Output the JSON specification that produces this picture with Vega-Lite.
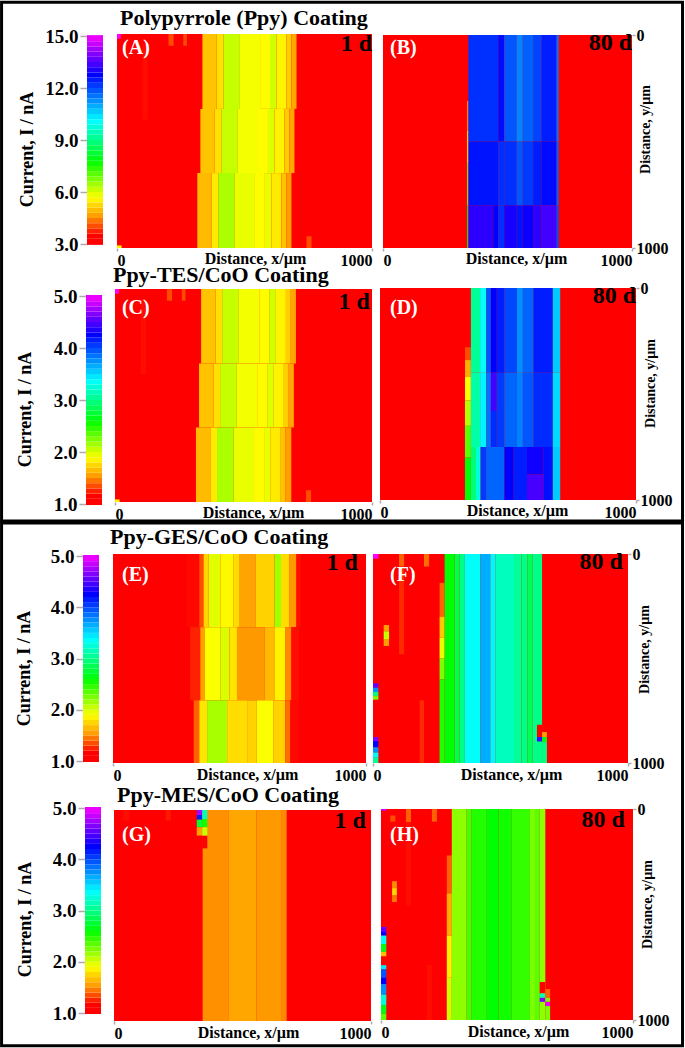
{"$schema":"https://vega.github.io/schema/vega-lite/v6.json","padding":0,"background":"white","config":{"view":{"stroke":null},"text":{"font":"Liberation Serif","fontWeight":"bold"},"axis":{"grid":false,"domain":false,"format":"d","labelFont":"Liberation Serif","labelFontWeight":"bold","labelFontSize":16,"labelColor":"#000","labelPadding":1,"tickColor":"#b0a8ac","tickSize":3,"tickWidth":1.5,"titleFont":"Liberation Serif","titleFontWeight":"bold","titleFontSize":16,"titleColor":"#000","titleBaseline":"middle","titleAlign":"center"}},"datasets":{"barH":[{"a":2.95,"b":3.3},{"a":3.3,"b":3.6},{"a":3.6,"b":3.9},{"a":3.9,"b":4.2},{"a":4.2,"b":4.5},{"a":4.5,"b":4.8},{"a":4.8,"b":5.1},{"a":5.1,"b":5.4},{"a":5.4,"b":5.7},{"a":5.7,"b":6},{"a":6,"b":6.3},{"a":6.3,"b":6.6},{"a":6.6,"b":6.9},{"a":6.9,"b":7.2},{"a":7.2,"b":7.5},{"a":7.5,"b":7.8},{"a":7.8,"b":8.1},{"a":8.1,"b":8.4},{"a":8.4,"b":8.7},{"a":8.7,"b":9},{"a":9,"b":9.3},{"a":9.3,"b":9.6},{"a":9.6,"b":9.9},{"a":9.9,"b":10.2},{"a":10.2,"b":10.5},{"a":10.5,"b":10.8},{"a":10.8,"b":11.1},{"a":11.1,"b":11.4},{"a":11.4,"b":11.7},{"a":11.7,"b":12},{"a":12,"b":12.3},{"a":12.3,"b":12.6},{"a":12.6,"b":12.9},{"a":12.9,"b":13.2},{"a":13.2,"b":13.5},{"a":13.5,"b":13.8},{"a":13.8,"b":14.1},{"a":14.1,"b":14.4},{"a":14.4,"b":14.7},{"a":14.7,"b":15.05}],"barL":[{"a":0.98,"b":1.1},{"a":1.1,"b":1.2},{"a":1.2,"b":1.3},{"a":1.3,"b":1.4},{"a":1.4,"b":1.5},{"a":1.5,"b":1.6},{"a":1.6,"b":1.7},{"a":1.7,"b":1.8},{"a":1.8,"b":1.9},{"a":1.9,"b":2},{"a":2,"b":2.1},{"a":2.1,"b":2.2},{"a":2.2,"b":2.3},{"a":2.3,"b":2.4},{"a":2.4,"b":2.5},{"a":2.5,"b":2.6},{"a":2.6,"b":2.7},{"a":2.7,"b":2.8},{"a":2.8,"b":2.9},{"a":2.9,"b":3},{"a":3,"b":3.1},{"a":3.1,"b":3.2},{"a":3.2,"b":3.3},{"a":3.3,"b":3.4},{"a":3.4,"b":3.5},{"a":3.5,"b":3.6},{"a":3.6,"b":3.7},{"a":3.7,"b":3.8},{"a":3.8,"b":3.9},{"a":3.9,"b":4},{"a":4,"b":4.1},{"a":4.1,"b":4.2},{"a":4.2,"b":4.3},{"a":4.3,"b":4.4},{"a":4.4,"b":4.5},{"a":4.5,"b":4.6},{"a":4.6,"b":4.7},{"a":4.7,"b":4.8},{"a":4.8,"b":4.9},{"a":4.9,"b":5.02}],
"A":[{"x0":0,"x1":1000,"y0":0,"y1":1000,"i":3},{"x0":202,"x1":222,"y0":0,"y1":55,"i":3.9},{"x0":260,"x1":274,"y0":0,"y1":55,"i":3.9},{"x0":100,"x1":120,"y0":50,"y1":400,"i":3.45},{"x0":743,"x1":763,"y0":945,"y1":1000,"i":3.9},{"x0":0,"x1":15,"y0":0,"y1":22,"i":14.9},{"x0":0,"x1":18,"y0":988,"y1":1000,"i":5.4},
{"x0":335,"x1":391,"y0":0,"y1":350,"i":4.9},{"x0":391,"x1":417,"y0":0,"y1":350,"i":5.2},{"x0":417,"x1":482,"y0":0,"y1":350,"i":6},{"x0":482,"x1":561,"y0":0,"y1":350,"i":5.6},{"x0":561,"x1":600,"y0":0,"y1":350,"i":5.5},{"x0":600,"x1":626,"y0":0,"y1":350,"i":5.9},{"x0":626,"x1":665,"y0":0,"y1":350,"i":5.4},{"x0":665,"x1":684,"y0":0,"y1":350,"i":5},{"x0":684,"x1":704,"y0":0,"y1":350,"i":4.6},
{"x0":327,"x1":383,"y0":350,"y1":650,"i":4.9},{"x0":383,"x1":409,"y0":350,"y1":650,"i":5.2},{"x0":409,"x1":474,"y0":350,"y1":650,"i":6},{"x0":474,"x1":553,"y0":350,"y1":650,"i":5.6},{"x0":553,"x1":592,"y0":350,"y1":650,"i":5.5},{"x0":592,"x1":618,"y0":350,"y1":650,"i":5.8},{"x0":618,"x1":657,"y0":350,"y1":650,"i":5.4},{"x0":657,"x1":676,"y0":350,"y1":650,"i":5},{"x0":676,"x1":696,"y0":350,"y1":650,"i":4.6},
{"x0":315,"x1":371,"y0":650,"y1":1000,"i":4.8},{"x0":371,"x1":397,"y0":650,"y1":1000,"i":5.3},{"x0":397,"x1":462,"y0":650,"y1":1000,"i":6.2},{"x0":462,"x1":541,"y0":650,"y1":1000,"i":5.7},{"x0":541,"x1":580,"y0":650,"y1":1000,"i":5.5},{"x0":580,"x1":606,"y0":650,"y1":1000,"i":5.7},{"x0":606,"x1":645,"y0":650,"y1":1000,"i":5.3},{"x0":645,"x1":664,"y0":650,"y1":1000,"i":4.9},{"x0":664,"x1":684,"y0":650,"y1":1000,"i":4.5}],
"B":[{"x0":0,"x1":1000,"y0":0,"y1":1000,"i":3},{"x0":338,"x1":343,"y0":310,"y1":450,"i":4.5},{"x0":338,"x1":343,"y0":450,"y1":600,"i":5.5},{"x0":338,"x1":343,"y0":600,"y1":800,"i":6.5},{"x0":338,"x1":343,"y0":800,"y1":1000,"i":7.5},
{"x0":343,"x1":463,"y0":0,"y1":500,"i":12.1},{"x0":463,"x1":487,"y0":0,"y1":500,"i":12.5},{"x0":487,"x1":537,"y0":0,"y1":500,"i":11.7},{"x0":537,"x1":561,"y0":0,"y1":500,"i":11.2},{"x0":561,"x1":603,"y0":0,"y1":500,"i":11.6},{"x0":603,"x1":637,"y0":0,"y1":500,"i":11.9},{"x0":637,"x1":697,"y0":0,"y1":500,"i":12.3},{"x0":697,"x1":706,"y0":0,"y1":500,"i":11.4},
{"x0":343,"x1":463,"y0":500,"y1":800,"i":12.4},{"x0":463,"x1":487,"y0":500,"y1":800,"i":12.1},{"x0":487,"x1":537,"y0":500,"y1":800,"i":12.1},{"x0":537,"x1":561,"y0":500,"y1":800,"i":11.7},{"x0":561,"x1":603,"y0":500,"y1":800,"i":12},{"x0":603,"x1":637,"y0":500,"y1":800,"i":12.3},{"x0":637,"x1":697,"y0":500,"y1":800,"i":12.5},{"x0":697,"x1":706,"y0":500,"y1":800,"i":11.6},
{"x0":343,"x1":443,"y0":800,"y1":1000,"i":13},{"x0":443,"x1":463,"y0":800,"y1":1000,"i":12.6},{"x0":463,"x1":487,"y0":800,"y1":1000,"i":12.1},{"x0":487,"x1":537,"y0":800,"y1":1000,"i":12.8},{"x0":537,"x1":561,"y0":800,"y1":1000,"i":12.4},{"x0":561,"x1":603,"y0":800,"y1":1000,"i":12.7},{"x0":603,"x1":637,"y0":800,"y1":1000,"i":13},{"x0":637,"x1":697,"y0":800,"y1":1000,"i":13.2},{"x0":697,"x1":706,"y0":800,"y1":1000,"i":11.8}],
"C":[{"x0":0,"x1":1000,"y0":0,"y1":1000,"i":1},{"x0":202,"x1":222,"y0":0,"y1":55,"i":1.3},{"x0":260,"x1":274,"y0":0,"y1":55,"i":1.3},{"x0":100,"x1":120,"y0":50,"y1":400,"i":1.15},{"x0":743,"x1":763,"y0":945,"y1":1000,"i":1.3},{"x0":0,"x1":15,"y0":0,"y1":22,"i":4.96},{"x0":0,"x1":18,"y0":988,"y1":1000,"i":1.8},
{"x0":335,"x1":391,"y0":0,"y1":350,"i":1.63},{"x0":391,"x1":417,"y0":0,"y1":350,"i":1.73},{"x0":417,"x1":482,"y0":0,"y1":350,"i":2},{"x0":482,"x1":561,"y0":0,"y1":350,"i":1.87},{"x0":561,"x1":600,"y0":0,"y1":350,"i":1.83},{"x0":600,"x1":626,"y0":0,"y1":350,"i":1.97},{"x0":626,"x1":665,"y0":0,"y1":350,"i":1.8},{"x0":665,"x1":684,"y0":0,"y1":350,"i":1.67},{"x0":684,"x1":704,"y0":0,"y1":350,"i":1.53},
{"x0":327,"x1":383,"y0":350,"y1":650,"i":1.63},{"x0":383,"x1":409,"y0":350,"y1":650,"i":1.73},{"x0":409,"x1":474,"y0":350,"y1":650,"i":2},{"x0":474,"x1":553,"y0":350,"y1":650,"i":1.87},{"x0":553,"x1":592,"y0":350,"y1":650,"i":1.83},{"x0":592,"x1":618,"y0":350,"y1":650,"i":1.93},{"x0":618,"x1":657,"y0":350,"y1":650,"i":1.8},{"x0":657,"x1":676,"y0":350,"y1":650,"i":1.67},{"x0":676,"x1":696,"y0":350,"y1":650,"i":1.53},
{"x0":315,"x1":371,"y0":650,"y1":1000,"i":1.6},{"x0":371,"x1":397,"y0":650,"y1":1000,"i":1.77},{"x0":397,"x1":462,"y0":650,"y1":1000,"i":2.07},{"x0":462,"x1":541,"y0":650,"y1":1000,"i":1.9},{"x0":541,"x1":580,"y0":650,"y1":1000,"i":1.83},{"x0":580,"x1":606,"y0":650,"y1":1000,"i":1.9},{"x0":606,"x1":645,"y0":650,"y1":1000,"i":1.77},{"x0":645,"x1":664,"y0":650,"y1":1000,"i":1.63},{"x0":664,"x1":686,"y0":650,"y1":1000,"i":1.5}],
"D":[{"x0":0,"x1":1000,"y0":0,"y1":1000,"i":1},{"x0":332,"x1":355,"y0":280,"y1":340,"i":1.3},{"x0":332,"x1":355,"y0":340,"y1":420,"i":1.55},{"x0":332,"x1":355,"y0":420,"y1":530,"i":1.85},{"x0":332,"x1":355,"y0":530,"y1":650,"i":2.05},{"x0":332,"x1":355,"y0":650,"y1":800,"i":2.3},{"x0":332,"x1":355,"y0":800,"y1":1000,"i":2.55},
{"x0":355,"x1":391,"y0":0,"y1":400,"i":3},{"x0":391,"x1":415,"y0":0,"y1":400,"i":3.3},{"x0":415,"x1":433,"y0":0,"y1":400,"i":3.9},{"x0":433,"x1":456,"y0":0,"y1":400,"i":4.2},{"x0":456,"x1":486,"y0":0,"y1":400,"i":4.1},{"x0":486,"x1":535,"y0":0,"y1":400,"i":3.95},{"x0":535,"x1":558,"y0":0,"y1":400,"i":3.7},{"x0":558,"x1":600,"y0":0,"y1":400,"i":3.85},{"x0":600,"x1":675,"y0":0,"y1":400,"i":4.1},{"x0":675,"x1":704,"y0":0,"y1":400,"i":3.5},
{"x0":355,"x1":391,"y0":400,"y1":750,"i":3.05},{"x0":391,"x1":415,"y0":400,"y1":750,"i":3.35},{"x0":415,"x1":433,"y0":400,"y1":750,"i":3.8},{"x0":433,"x1":456,"y0":400,"y1":580,"i":4.4},{"x0":433,"x1":456,"y0":580,"y1":750,"i":4.05},{"x0":456,"x1":486,"y0":400,"y1":750,"i":4},{"x0":486,"x1":535,"y0":400,"y1":750,"i":3.85},{"x0":535,"x1":558,"y0":400,"y1":750,"i":3.75},{"x0":558,"x1":600,"y0":400,"y1":750,"i":3.9},{"x0":600,"x1":675,"y0":400,"y1":750,"i":4.05},{"x0":675,"x1":704,"y0":400,"y1":750,"i":3.45},
{"x0":355,"x1":375,"y0":750,"y1":1000,"i":2.9},{"x0":375,"x1":393,"y0":750,"y1":1000,"i":3.2},{"x0":393,"x1":415,"y0":750,"y1":1000,"i":4},{"x0":415,"x1":486,"y0":750,"y1":1000,"i":3.85},{"x0":486,"x1":522,"y0":750,"y1":1000,"i":4.2},{"x0":522,"x1":574,"y0":750,"y1":1000,"i":4.1},{"x0":574,"x1":639,"y0":750,"y1":880,"i":4.25},{"x0":574,"x1":639,"y0":880,"y1":1000,"i":4.42},{"x0":639,"x1":675,"y0":750,"y1":1000,"i":4.15},{"x0":675,"x1":704,"y0":750,"y1":1000,"i":3.5}],
"E":[{"x0":0,"x1":1000,"y0":0,"y1":1000,"i":1},
{"x0":292,"x1":341,"y0":0,"y1":350,"i":1.14},{"x0":341,"x1":358,"y0":0,"y1":350,"i":1.3},{"x0":358,"x1":378,"y0":0,"y1":350,"i":1.7},{"x0":378,"x1":424,"y0":0,"y1":350,"i":1.92},{"x0":424,"x1":477,"y0":0,"y1":350,"i":1.82},{"x0":477,"x1":501,"y0":0,"y1":350,"i":1.72},{"x0":501,"x1":563,"y0":0,"y1":350,"i":1.52},{"x0":563,"x1":638,"y0":0,"y1":350,"i":1.68},{"x0":638,"x1":664,"y0":0,"y1":350,"i":2.1},{"x0":664,"x1":698,"y0":0,"y1":350,"i":1.72},{"x0":698,"x1":725,"y0":0,"y1":350,"i":1.48},{"x0":725,"x1":742,"y0":0,"y1":350,"i":1.15},
{"x0":305,"x1":345,"y0":350,"y1":700,"i":1.2},{"x0":345,"x1":362,"y0":350,"y1":700,"i":1.5},{"x0":362,"x1":424,"y0":350,"y1":700,"i":1.85},{"x0":424,"x1":460,"y0":350,"y1":700,"i":1.95},{"x0":460,"x1":490,"y0":350,"y1":700,"i":1.75},{"x0":490,"x1":600,"y0":350,"y1":700,"i":1.48},{"x0":600,"x1":640,"y0":350,"y1":700,"i":1.6},{"x0":640,"x1":680,"y0":350,"y1":700,"i":1.8},{"x0":680,"x1":705,"y0":350,"y1":700,"i":1.45},{"x0":705,"x1":735,"y0":350,"y1":700,"i":1.15},
{"x0":319,"x1":341,"y0":700,"y1":1000,"i":1.35},{"x0":341,"x1":372,"y0":700,"y1":1000,"i":1.75},{"x0":372,"x1":451,"y0":700,"y1":1000,"i":2.08},{"x0":451,"x1":530,"y0":700,"y1":1000,"i":1.72},{"x0":530,"x1":568,"y0":700,"y1":1000,"i":1.68},{"x0":568,"x1":635,"y0":700,"y1":1000,"i":1.85},{"x0":635,"x1":681,"y0":700,"y1":1000,"i":1.68},{"x0":681,"x1":701,"y0":700,"y1":1000,"i":1.38},{"x0":701,"x1":735,"y0":700,"y1":1000,"i":1.14}],
"F":[{"x0":0,"x1":1000,"y0":0,"y1":1000,"i":1},{"x0":0,"x1":21,"y0":0,"y1":22,"i":4.96},{"x0":102,"x1":122,"y0":0,"y1":60,"i":1.35},{"x0":102,"x1":122,"y0":60,"y1":480,"i":1.22},{"x0":200,"x1":220,"y0":0,"y1":60,"i":1.38},{"x0":183,"x1":200,"y0":700,"y1":1000,"i":1.22},{"x0":42,"x1":63,"y0":340,"y1":370,"i":1.5},{"x0":42,"x1":63,"y0":370,"y1":410,"i":2},{"x0":42,"x1":63,"y0":410,"y1":440,"i":1.5},{"x0":0,"x1":21,"y0":619,"y1":640,"i":4.5},{"x0":0,"x1":21,"y0":640,"y1":660,"i":3.7},{"x0":0,"x1":21,"y0":660,"y1":680,"i":2.9},{"x0":0,"x1":21,"y0":680,"y1":697,"i":2.2},{"x0":0,"x1":21,"y0":876,"y1":895,"i":4.6},{"x0":0,"x1":21,"y0":895,"y1":925,"i":4.2},{"x0":0,"x1":21,"y0":925,"y1":950,"i":3.7},{"x0":0,"x1":21,"y0":950,"y1":975,"i":3.3},{"x0":0,"x1":21,"y0":975,"y1":1000,"i":3},
{"x0":261,"x1":281,"y0":138,"y1":300,"i":1.35},{"x0":261,"x1":281,"y0":300,"y1":400,"i":1.65},{"x0":261,"x1":281,"y0":400,"y1":500,"i":1.9},{"x0":261,"x1":281,"y0":500,"y1":600,"i":2.2},{"x0":261,"x1":281,"y0":600,"y1":1000,"i":2.45},
{"x0":281,"x1":320,"y0":0,"y1":1000,"i":2.55},{"x0":320,"x1":340,"y0":0,"y1":1000,"i":2.75},{"x0":340,"x1":360,"y0":0,"y1":1000,"i":2.95},{"x0":360,"x1":421,"y0":0,"y1":1000,"i":3.3},{"x0":421,"x1":460,"y0":0,"y1":1000,"i":3.6},{"x0":460,"x1":480,"y0":0,"y1":1000,"i":3.35},{"x0":480,"x1":553,"y0":0,"y1":1000,"i":3.12},{"x0":553,"x1":582,"y0":0,"y1":1000,"i":3},{"x0":582,"x1":605,"y0":0,"y1":1000,"i":2.95},{"x0":605,"x1":625,"y0":0,"y1":1000,"i":2.8},{"x0":625,"x1":663,"y0":0,"y1":1000,"i":2.95},
{"x0":643,"x1":663,"y0":817,"y1":876,"i":1},{"x0":643,"x1":663,"y0":876,"y1":897,"i":4.4},{"x0":663,"x1":682,"y0":852,"y1":876,"i":1.5},{"x0":663,"x1":682,"y0":876,"y1":900,"i":2.6},{"x0":663,"x1":682,"y0":900,"y1":1000,"i":2.95}],
"G":[{"x0":0,"x1":1000,"y0":0,"y1":1000,"i":1},{"x0":36,"x1":60,"y0":0,"y1":50,"i":1.15},{"x0":201,"x1":221,"y0":0,"y1":50,"i":1.18},{"x0":345,"x1":447,"y0":0,"y1":1000,"i":1.46},{"x0":447,"x1":555,"y0":0,"y1":1000,"i":1.53},{"x0":555,"x1":650,"y0":0,"y1":1000,"i":1.48},{"x0":650,"x1":672,"y0":0,"y1":1000,"i":1.44},
{"x0":322,"x1":343,"y0":0,"y1":24,"i":4.7},{"x0":322,"x1":343,"y0":24,"y1":46,"i":4.1},{"x0":322,"x1":343,"y0":46,"y1":82,"i":2.7},{"x0":322,"x1":343,"y0":82,"y1":122,"i":1.5},{"x0":322,"x1":343,"y0":122,"y1":150,"i":1.1},{"x0":343,"x1":363,"y0":0,"y1":43,"i":3.1},{"x0":343,"x1":363,"y0":43,"y1":82,"i":2.5},{"x0":343,"x1":363,"y0":82,"y1":122,"i":2},{"x0":343,"x1":363,"y0":122,"y1":182,"i":1}],
"H":[{"x0":0,"x1":1000,"y0":0,"y1":1000,"i":1},{"x0":0,"x1":21,"y0":0,"y1":8,"i":4.8},{"x0":99,"x1":119,"y0":0,"y1":63,"i":1.35},{"x0":99,"x1":119,"y0":63,"y1":460,"i":1.15},{"x0":202,"x1":222,"y0":0,"y1":60,"i":1.35},{"x0":37,"x1":57,"y0":31,"y1":60,"i":1.3},{"x0":182,"x1":202,"y0":740,"y1":1000,"i":1.15},{"x0":44,"x1":63,"y0":342,"y1":375,"i":1.45},{"x0":44,"x1":63,"y0":375,"y1":410,"i":1.7},{"x0":44,"x1":63,"y0":410,"y1":441,"i":1.4},
{"x0":0,"x1":21,"y0":559,"y1":583,"i":4.5},{"x0":0,"x1":21,"y0":583,"y1":600,"i":4.2},{"x0":0,"x1":21,"y0":600,"y1":640,"i":3.3},{"x0":0,"x1":21,"y0":640,"y1":677,"i":2.6},{"x0":0,"x1":21,"y0":677,"y1":698,"i":1.6},{"x0":0,"x1":21,"y0":740,"y1":760,"i":3.4},{"x0":0,"x1":21,"y0":760,"y1":800,"i":3.9},{"x0":0,"x1":21,"y0":800,"y1":830,"i":4.2},{"x0":0,"x1":21,"y0":830,"y1":880,"i":3.7},{"x0":0,"x1":21,"y0":880,"y1":930,"i":3.2},{"x0":0,"x1":21,"y0":930,"y1":970,"i":2.6},{"x0":0,"x1":21,"y0":970,"y1":1000,"i":2.3},
{"x0":261,"x1":281,"y0":220,"y1":400,"i":1.35},{"x0":261,"x1":281,"y0":400,"y1":600,"i":1.55},{"x0":261,"x1":281,"y0":600,"y1":800,"i":1.8},{"x0":261,"x1":281,"y0":800,"y1":1000,"i":1.98},
{"x0":281,"x1":340,"y0":0,"y1":1000,"i":2.15},{"x0":340,"x1":360,"y0":0,"y1":1000,"i":2.35},{"x0":360,"x1":420,"y0":0,"y1":1000,"i":2.45},{"x0":420,"x1":466,"y0":0,"y1":1000,"i":2.55},{"x0":466,"x1":519,"y0":0,"y1":1000,"i":2.5},{"x0":519,"x1":591,"y0":0,"y1":1000,"i":2.4},{"x0":591,"x1":611,"y0":0,"y1":1000,"i":2.2},{"x0":611,"x1":630,"y0":0,"y1":1000,"i":2.3},{"x0":630,"x1":652,"y0":0,"y1":1000,"i":2.15},
{"x0":630,"x1":652,"y0":820,"y1":874,"i":1},{"x0":630,"x1":652,"y0":874,"y1":895,"i":3.1},{"x0":630,"x1":652,"y0":895,"y1":914,"i":4.6},{"x0":652,"x1":671,"y0":853,"y1":895,"i":1.35},{"x0":652,"x1":671,"y0":895,"y1":914,"i":2.2},{"x0":652,"x1":671,"y0":914,"y1":934,"i":4.9},{"x0":652,"x1":671,"y0":934,"y1":1000,"i":2.2}]},
"concat":[
{"width":111,"height":245,"layer":[{"data":{"values":[{"x0":-5.34,"x1":37.22,"y0":16.94,"y1":-12.98},{"x0":-5.34,"x1":37.22,"y0":-13.1,"y1":-43.25}]},"mark":{"type":"rect","fill":null,"stroke":"#000","strokeWidth":3},"encoding":{"x":{"field":"x0","type":"quantitative","scale":{"domain":[0,1],"range":[85,101],"nice":false,"zero":false},"axis":null},"x2":{"field":"x1"},"y":{"field":"y0","type":"quantitative","scale":{"domain":[3,15],"range":[241,33],"nice":false,"zero":false},"axis":{"title":"Current, I / nA","titleFontSize":18,"titleAngle":-90,"titleX":-60,"titleY":146,"values":[3,6,9,12,15],"format":".1f","offset":-85,"tickSize":7,"labelFontSize":19,"labelPadding":2}},"y2":{"field":"y1"}}},{"data":{"name":"barH"},"mark":"rect","encoding":{"x":{"datum":0,"type":"quantitative"},"x2":{"datum":1},"y":{"field":"a","type":"quantitative"},"y2":{"field":"b"},"color":{"field":"a","type":"quantitative","legend":null,"scale":{"interpolate":"rgb","domain":[3,3.36,4.44,5.52,7.62,9.96,12.6,13.86,14.88,15],"range":["#f00","#f00","#f90","#ff0","#0f0","#0ff","#00f","#80f","#f0f","#f0f"]}}}}]},
{"width":260,"height":245,"layer":[{"data":{"name":"A"},"mark":"rect","encoding":{"x":{"field":"x0","type":"quantitative","scale":{"domain":[0,1000],"range":[4,259],"nice":false,"zero":false},"axis":{"title":"Distance, x/µm","titleX":142,"titleY":10,"values":[0,1000],"labelFlush":true}},"x2":{"field":"x1"},"y":{"field":"y0","type":"quantitative","scale":{"domain":[0,1000],"range":[31,245],"nice":false,"zero":false},"axis":null},"y2":{"field":"y1"},"color":{"field":"i","type":"quantitative","legend":null,"scale":{"interpolate":"rgb","domain":[3,3.36,4.44,5.52,7.62,9.96,12.6,13.86,14.88,15],"range":["#f00","#f00","#f90","#ff0","#0f0","#0ff","#00f","#80f","#f0f","#f0f"]}}}},{"data":{"values":[{"t":"(A)","x":20,"y":65}]},"mark":{"type":"text","align":"left","color":"white","fontSize":20},"encoding":{"x":{"field":"x","type":"quantitative"},"y":{"field":"y","type":"quantitative"},"text":{"field":"t"}}},{"data":{"values":[{"t":"1 d","x":1000,"y":47}]},"mark":{"type":"text","align":"right","color":"black","fontSize":24},"encoding":{"x":{"field":"x","type":"quantitative"},"y":{"field":"y","type":"quantitative"},"text":{"field":"t"}}},{"data":{"values":[{"t":"Polypyrrole (Ppy) Coating","x":12,"y":-75}]},"mark":{"type":"text","align":"left","color":"black","fontSize":22},"encoding":{"x":{"field":"x","type":"quantitative"},"y":{"field":"y","type":"quantitative"},"text":{"field":"t"}}}]},
{"width":263,"height":245,"layer":[{"data":{"name":"B"},"mark":"rect","encoding":{"x":{"field":"x0","type":"quantitative","scale":{"domain":[0,1000],"range":[10,259],"nice":false,"zero":false},"axis":{"title":"Distance, x/µm","titleX":143,"titleY":10,"values":[0,1000],"labelFlush":true}},"x2":{"field":"x1"},"y":{"field":"y0","type":"quantitative","scale":{"domain":[0,1000],"range":[32,245],"nice":false,"zero":false},"axis":{"orient":"right","offset":-4,"title":"Distance, y/µm","titleFontSize":14,"titleAngle":-90,"titleX":13,"titleY":126,"values":[0,1000]}},"y2":{"field":"y1"},"color":{"field":"i","type":"quantitative","legend":null,"scale":{"interpolate":"rgb","domain":[3,3.36,4.44,5.52,7.62,9.96,12.6,13.86,14.88,15],"range":["#f00","#f00","#f90","#ff0","#0f0","#0ff","#00f","#80f","#f0f","#f0f"]}}}},{"data":{"values":[{"t":"(B)","x":28,"y":61}]},"mark":{"type":"text","align":"left","color":"white","fontSize":20},"encoding":{"x":{"field":"x","type":"quantitative"},"y":{"field":"y","type":"quantitative"},"text":{"field":"t"}}},{"data":{"values":[{"t":"80 d","x":1000,"y":38}]},"mark":{"type":"text","align":"right","color":"black","fontSize":24},"encoding":{"x":{"field":"x","type":"quantitative"},"y":{"field":"y","type":"quantitative"},"text":{"field":"t"}}}]},
{"width":111,"height":256,"mark":"rect","data":{"name":"barL"},"encoding":{"x":{"datum":0,"type":"quantitative","scale":{"domain":[0,1],"range":[84,100],"nice":false,"zero":false},"axis":null},"x2":{"datum":1},"y":{"field":"a","type":"quantitative","scale":{"domain":[1,5],"range":[256,48],"nice":false,"zero":false},"axis":{"title":"Current, I / nA","titleFontSize":18,"titleAngle":-90,"titleX":-61,"titleY":161,"values":[1,2,3,4,5],"format":".1f","offset":-84,"tickSize":7,"labelFontSize":19,"labelPadding":2}},"y2":{"field":"b"},"color":{"field":"a","type":"quantitative","legend":null,"scale":{"interpolate":"rgb","domain":[1,1.12,1.48,1.84,2.54,3.32,4.2,4.62,4.96,5],"range":["#f00","#f00","#f90","#ff0","#0f0","#0ff","#00f","#80f","#f0f","#f0f"]}}}},
{"width":260,"height":256,"layer":[{"data":{"name":"C"},"mark":"rect","encoding":{"x":{"field":"x0","type":"quantitative","scale":{"domain":[0,1000],"range":[2,259],"nice":false,"zero":false},"axis":{"offset":-2,"title":"Distance, x/µm","titleX":140,"titleY":10,"values":[0,1000],"labelFlush":true}},"x2":{"field":"x1"},"y":{"field":"y0","type":"quantitative","scale":{"domain":[0,1000],"range":[41,254],"nice":false,"zero":false},"axis":null},"y2":{"field":"y1"},"color":{"field":"i","type":"quantitative","legend":null,"scale":{"interpolate":"rgb","domain":[1,1.12,1.48,1.84,2.54,3.32,4.2,4.62,4.96,5],"range":["#f00","#f00","#f90","#ff0","#0f0","#0ff","#00f","#80f","#f0f","#f0f"]}}}},{"data":{"values":[{"t":"(C)","x":27,"y":89}]},"mark":{"type":"text","align":"left","color":"white","fontSize":20},"encoding":{"x":{"field":"x","type":"quantitative"},"y":{"field":"y","type":"quantitative"},"text":{"field":"t"}}},{"data":{"values":[{"t":"1 d","x":992,"y":61}]},"mark":{"type":"text","align":"right","color":"black","fontSize":24},"encoding":{"x":{"field":"x","type":"quantitative"},"y":{"field":"y","type":"quantitative"},"text":{"field":"t"}}},{"data":{"values":[{"t":"Ppy-TES/CoO Coating","x":-8,"y":-66}]},"mark":{"type":"text","align":"left","color":"black","fontSize":22},"encoding":{"x":{"field":"x","type":"quantitative"},"y":{"field":"y","type":"quantitative"},"text":{"field":"t"}}}]},
{"width":263,"height":256,"layer":[{"data":{"name":"D"},"mark":"rect","encoding":{"x":{"field":"x0","type":"quantitative","scale":{"domain":[0,1000],"range":[7,263],"nice":false,"zero":false},"axis":{"offset":-4,"title":"Distance, x/µm","titleX":144,"titleY":10,"values":[0,1000],"labelFlush":true}},"x2":{"field":"x1"},"y":{"field":"y0","type":"quantitative","scale":{"domain":[0,1000],"range":[40,252],"nice":false,"zero":false},"axis":{"orient":"right","title":"Distance, y/µm","titleFontSize":14,"titleAngle":-90,"titleX":14,"titleY":135,"values":[0,1000]}},"y2":{"field":"y1"},"color":{"field":"i","type":"quantitative","legend":null,"scale":{"interpolate":"rgb","domain":[1,1.12,1.48,1.84,2.54,3.32,4.2,4.62,4.96,5],"range":["#f00","#f00","#f90","#ff0","#0f0","#0ff","#00f","#80f","#f0f","#f0f"]}}}},{"data":{"values":[{"t":"(D)","x":39,"y":94}]},"mark":{"type":"text","align":"left","color":"white","fontSize":20},"encoding":{"x":{"field":"x","type":"quantitative"},"y":{"field":"y","type":"quantitative"},"text":{"field":"t"}}},{"data":{"values":[{"t":"80 d","x":1000,"y":38}]},"mark":{"type":"text","align":"right","color":"black","fontSize":24},"encoding":{"x":{"field":"x","type":"quantitative"},"y":{"field":"y","type":"quantitative"},"text":{"field":"t"}}}]},
{"width":111,"height":259,"mark":"rect","data":{"name":"barL"},"encoding":{"x":{"datum":0,"type":"quantitative","scale":{"domain":[0,1],"range":[81,97],"nice":false,"zero":false},"axis":null},"x2":{"datum":1},"y":{"field":"a","type":"quantitative","scale":{"domain":[1,5],"range":[257,52],"nice":false,"zero":false},"axis":{"title":"Current, I / nA","titleFontSize":18,"titleAngle":-90,"titleX":-59,"titleY":164,"values":[1,2,3,4,5],"format":".1f","offset":-81,"tickSize":7,"labelFontSize":19,"labelPadding":2}},"y2":{"field":"b"},"color":{"field":"a","type":"quantitative","legend":null,"scale":{"interpolate":"rgb","domain":[1,1.12,1.48,1.84,2.54,3.32,4.2,4.62,4.96,5],"range":["#f00","#f00","#f90","#ff0","#0f0","#0ff","#00f","#80f","#f0f","#f0f"]}}}},
{"width":260,"height":259,"layer":[{"data":{"name":"E"},"mark":"rect","encoding":{"x":{"field":"x0","type":"quantitative","scale":{"domain":[0,1000],"range":[0,253],"nice":false,"zero":false},"axis":{"title":"Distance, x/µm","titleX":134,"titleY":11,"values":[0,1000],"labelFlush":true}},"x2":{"field":"x1"},"y":{"field":"y0","type":"quantitative","scale":{"domain":[0,1000],"range":[50,259],"nice":false,"zero":false},"axis":null},"y2":{"field":"y1"},"color":{"field":"i","type":"quantitative","legend":null,"scale":{"interpolate":"rgb","domain":[1,1.12,1.48,1.84,2.54,3.32,4.2,4.62,4.96,5],"range":["#f00","#f00","#f90","#ff0","#0f0","#0ff","#00f","#80f","#f0f","#f0f"]}}}},{"data":{"values":[{"t":"(E)","x":36,"y":100}]},"mark":{"type":"text","align":"left","color":"white","fontSize":20},"encoding":{"x":{"field":"x","type":"quantitative"},"y":{"field":"y","type":"quantitative"},"text":{"field":"t"}}},{"data":{"values":[{"t":"1 d","x":968,"y":43}]},"mark":{"type":"text","align":"right","color":"black","fontSize":24},"encoding":{"x":{"field":"x","type":"quantitative"},"y":{"field":"y","type":"quantitative"},"text":{"field":"t"}}},{"data":{"values":[{"t":"Ppy-GES/CoO Coating","x":-12,"y":-81}]},"mark":{"type":"text","align":"left","color":"black","fontSize":22},"encoding":{"x":{"field":"x","type":"quantitative"},"y":{"field":"y","type":"quantitative"},"text":{"field":"t"}}}]},
{"width":263,"height":259,"layer":[{"data":{"name":"F"},"mark":"rect","encoding":{"x":{"field":"x0","type":"quantitative","scale":{"domain":[0,1000],"range":[0,255],"nice":false,"zero":false},"axis":{"title":"Distance, x/µm","titleX":138,"titleY":11,"values":[0,1000],"labelFlush":true}},"x2":{"field":"x1"},"y":{"field":"y0","type":"quantitative","scale":{"domain":[0,1000],"range":[50,259],"nice":false,"zero":false},"axis":{"orient":"right","offset":-8,"title":"Distance, y/µm","titleFontSize":14,"titleAngle":-90,"titleX":16,"titleY":145,"values":[0,1000]}},"y2":{"field":"y1"},"color":{"field":"i","type":"quantitative","legend":null,"scale":{"interpolate":"rgb","domain":[1,1.12,1.48,1.84,2.54,3.32,4.2,4.62,4.96,5],"range":["#f00","#f00","#f90","#ff0","#0f0","#0ff","#00f","#80f","#f0f","#f0f"]}}}},{"data":{"values":[{"t":"(F)","x":67,"y":100}]},"mark":{"type":"text","align":"left","color":"white","fontSize":20},"encoding":{"x":{"field":"x","type":"quantitative"},"y":{"field":"y","type":"quantitative"},"text":{"field":"t"}}},{"data":{"values":[{"t":"80 d","x":980,"y":38}]},"mark":{"type":"text","align":"right","color":"black","fontSize":24},"encoding":{"x":{"field":"x","type":"quantitative"},"y":{"field":"y","type":"quantitative"},"text":{"field":"t"}}}]},
{"width":111,"height":258,"mark":"rect","data":{"name":"barL"},"encoding":{"x":{"datum":0,"type":"quantitative","scale":{"domain":[0,1],"range":[83,99],"nice":false,"zero":false},"axis":null},"x2":{"datum":1},"y":{"field":"a","type":"quantitative","scale":{"domain":[1,5],"range":[250,45],"nice":false,"zero":false},"axis":{"title":"Current, I / nA","titleFontSize":18,"titleAngle":-90,"titleX":-60,"titleY":156,"values":[1,2,3,4,5],"format":".1f","offset":-83,"tickSize":7,"labelFontSize":19,"labelPadding":2}},"y2":{"field":"b"},"color":{"field":"a","type":"quantitative","legend":null,"scale":{"interpolate":"rgb","domain":[1,1.12,1.48,1.84,2.54,3.32,4.2,4.62,4.96,5],"range":["#f00","#f00","#f90","#ff0","#0f0","#0ff","#00f","#80f","#f0f","#f0f"]}}}},
{"width":260,"height":258,"layer":[{"data":{"name":"G"},"mark":"rect","encoding":{"x":{"field":"x0","type":"quantitative","scale":{"domain":[0,1000],"range":[1,258],"nice":false,"zero":false},"axis":{"title":"Distance, x/µm","titleX":135,"titleY":11,"values":[0,1000],"labelFlush":true}},"x2":{"field":"x1"},"y":{"field":"y0","type":"quantitative","scale":{"domain":[0,1000],"range":[47,258],"nice":false,"zero":false},"axis":null},"y2":{"field":"y1"},"color":{"field":"i","type":"quantitative","legend":null,"scale":{"interpolate":"rgb","domain":[1,1.12,1.48,1.84,2.54,3.32,4.2,4.62,4.96,5],"range":["#f00","#f00","#f90","#ff0","#0f0","#0ff","#00f","#80f","#f0f","#f0f"]}}}},{"data":{"values":[{"t":"(G)","x":31,"y":118}]},"mark":{"type":"text","align":"left","color":"white","fontSize":20},"encoding":{"x":{"field":"x","type":"quantitative"},"y":{"field":"y","type":"quantitative"},"text":{"field":"t"}}},{"data":{"values":[{"t":"1 d","x":980,"y":52}]},"mark":{"type":"text","align":"right","color":"black","fontSize":24},"encoding":{"x":{"field":"x","type":"quantitative"},"y":{"field":"y","type":"quantitative"},"text":{"field":"t"}}},{"data":{"values":[{"t":"Ppy-MES/CoO Coating","x":12,"y":-71}]},"mark":{"type":"text","align":"left","color":"black","fontSize":22},"encoding":{"x":{"field":"x","type":"quantitative"},"y":{"field":"y","type":"quantitative"},"text":{"field":"t"}}}]},
{"width":263,"height":258,"layer":[{"data":{"name":"H"},"mark":"rect","encoding":{"x":{"field":"x0","type":"quantitative","scale":{"domain":[0,1000],"range":[8,260],"nice":false,"zero":false},"axis":{"offset":-1,"title":"Distance, x/µm","titleX":145,"titleY":11,"values":[0,1000],"labelFlush":true}},"x2":{"field":"x1"},"y":{"field":"y0","type":"quantitative","scale":{"domain":[0,1000],"range":[46,257],"nice":false,"zero":false},"axis":{"orient":"right","offset":-3,"title":"Distance, y/µm","titleFontSize":14,"titleAngle":-90,"titleX":14,"titleY":141,"values":[0,1000]}},"y2":{"field":"y1"},"color":{"field":"i","type":"quantitative","legend":null,"scale":{"interpolate":"rgb","domain":[1,1.12,1.48,1.84,2.54,3.32,4.2,4.62,4.96,5],"range":["#f00","#f00","#f90","#ff0","#0f0","#0ff","#00f","#80f","#f0f","#f0f"]}}}},{"data":{"values":[{"t":"(H)","x":36,"y":123}]},"mark":{"type":"text","align":"left","color":"white","fontSize":20},"encoding":{"x":{"field":"x","type":"quantitative"},"y":{"field":"y","type":"quantitative"},"text":{"field":"t"}}},{"data":{"values":[{"t":"80 d","x":968,"y":52}]},"mark":{"type":"text","align":"right","color":"black","fontSize":24},"encoding":{"x":{"field":"x","type":"quantitative"},"y":{"field":"y","type":"quantitative"},"text":{"field":"t"}}}]}
],"columns":3,"align":"none","bounds":"flush","spacing":{"row":0,"column":0},"resolve":{"scale":{"color":"independent"}}}
